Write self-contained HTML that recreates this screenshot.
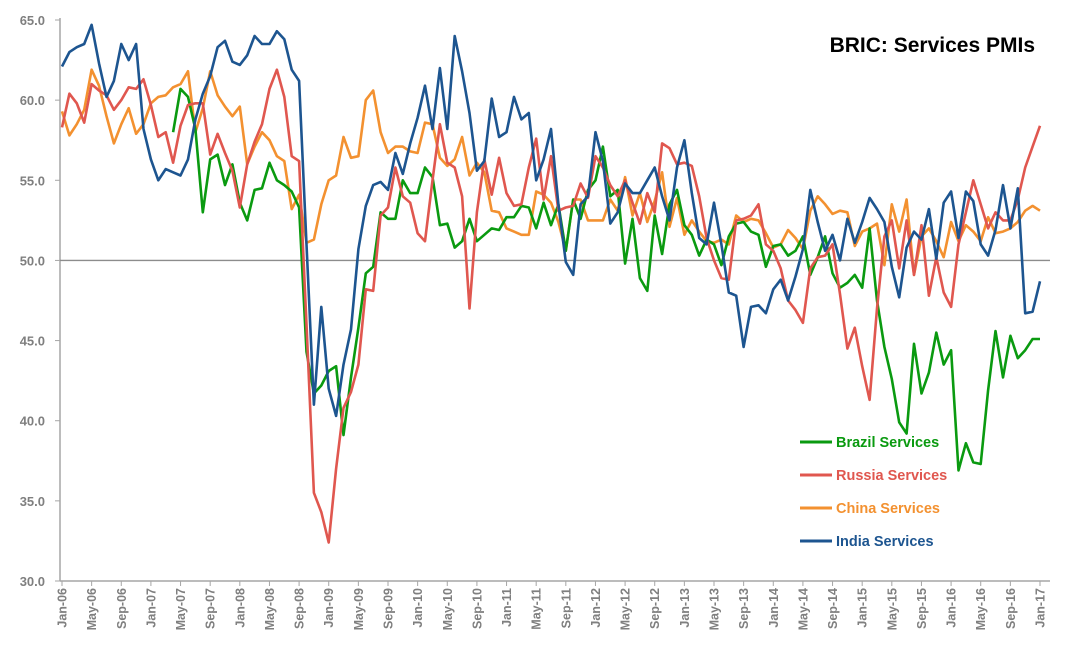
<!DOCTYPE html>
<html><head><meta charset="utf-8"><style>
body{margin:0;background:#fff;font-family:"Liberation Sans",sans-serif}
svg text{font-family:"Liberation Sans",sans-serif}
</style></head><body>
<svg id="chart" width="1076" height="660" xmlns="http://www.w3.org/2000/svg">
<g id="axes"></g><g id="lines"></g>
<text x="1035" y="52" text-anchor="end" font-size="21" font-weight="bold" fill="#000">BRIC: Services PMIs</text>
<g font-size="14.5" font-weight="bold">
<g><line x1="800" y1="442" x2="832" y2="442" stroke="#0a9a10" stroke-width="3"/><text x="836" y="447" fill="#0a9a10">Brazil Services</text></g>
<g><line x1="800" y1="475" x2="832" y2="475" stroke="#e0574f" stroke-width="3"/><text x="836" y="480" fill="#e0574f">Russia Services</text></g>
<g><line x1="800" y1="508" x2="832" y2="508" stroke="#f39130" stroke-width="3"/><text x="836" y="513" fill="#f39130">China Services</text></g>
<g><line x1="800" y1="541" x2="832" y2="541" stroke="#1d5590" stroke-width="3"/><text x="836" y="546" fill="#1d5590">India Services</text></g>
</g>
</svg>
<script>
const yTicks=[30,35,40,45,50,55,60,65];
const monthNames=["Jan","Feb","Mar","Apr","May","Jun","Jul","Aug","Sep","Oct","Nov","Dec"];
const startYear=2006, monthCount=133;
const india=[62.1,63.0,63.3,63.5,64.7,62.3,60.2,61.2,63.5,62.5,63.5,58.2,
56.3,55.0,55.7,55.5,55.3,56.3,58.8,60.4,61.5,63.3,63.7,62.4,
62.2,62.8,64.0,63.5,63.5,64.3,63.8,61.9,61.2,51.0,41.0,47.1,
42.0,40.3,43.5,45.7,50.7,53.4,54.7,54.9,54.4,56.7,55.4,57.3,
58.9,60.9,58.2,62.0,58.2,64.0,61.8,59.2,55.6,56.2,60.1,57.7,
58.0,60.2,58.8,59.2,55.0,56.3,58.2,53.5,49.9,49.1,53.5,54.0,
58.0,56.2,52.3,53.0,54.8,54.2,54.2,55.0,55.8,54.0,52.5,55.8,
57.5,54.2,51.4,51.0,53.6,51.0,48.0,47.8,44.6,47.1,47.2,46.7,
48.2,48.8,47.5,49.0,50.7,54.4,52.4,50.6,51.6,50.0,52.6,51.1,
52.4,53.9,53.2,52.4,49.6,47.7,50.8,51.8,51.3,53.2,50.1,53.6,
54.3,51.4,54.3,53.7,51.0,50.3,51.9,54.7,52.0,54.5,46.7,46.8,48.7];
const russia=[58.3,60.4,59.8,58.6,61.0,60.6,60.3,59.4,60.0,60.8,60.7,61.3,
59.7,57.7,58.0,56.1,58.4,59.7,59.8,59.8,56.6,57.9,56.7,55.6,
53.3,56.0,57.4,58.5,60.7,61.9,60.2,56.5,56.2,46.0,35.5,34.3,
32.4,37.0,40.8,41.8,43.5,48.2,48.1,52.8,53.3,55.8,54.0,53.6,
51.7,51.2,55.0,58.5,56.1,55.8,54.0,47.0,53.0,56.3,54.1,56.4,
54.2,53.4,53.5,55.8,57.6,53.8,56.5,53.1,53.3,53.4,54.8,53.9,
56.5,55.8,54.7,54.0,55.0,53.6,52.3,54.2,53.0,57.3,57.0,56.0,
56.1,55.9,54.0,51.4,50.0,48.9,48.8,52.5,52.6,52.8,53.5,51.0,
50.6,49.5,47.5,46.9,46.1,49.5,50.2,50.3,51.0,47.9,44.5,45.8,
43.4,41.3,47.0,51.5,52.5,49.5,52.5,49.1,52.2,47.8,50.2,48.0,
47.1,51.0,53.0,55.0,53.5,52.0,53.0,52.5,52.5,53.8,55.8,57.1,58.4];
const china=[59.3,57.8,58.5,59.4,61.9,60.9,59.0,57.3,58.5,59.5,57.9,58.5,
59.8,60.2,60.3,60.8,61.0,61.8,58.0,59.5,61.8,60.3,59.6,59.0,
59.6,56.0,57.1,58.0,57.5,56.5,56.2,53.2,54.1,51.1,51.3,53.5,
55.0,55.3,57.7,56.4,56.5,60.0,60.6,58.0,56.7,57.1,57.1,56.8,
56.7,58.6,58.5,56.4,55.9,56.3,57.7,55.3,56.1,55.5,53.1,53.0,
52.0,51.8,51.6,51.6,54.3,54.1,53.6,52.4,50.6,53.8,53.8,52.5,
52.5,52.5,53.8,53.1,55.2,52.8,54.2,52.4,53.7,55.5,52.1,53.9,
51.6,52.5,51.8,51.2,51.1,51.3,51.0,52.8,52.4,52.6,52.5,51.7,
50.8,51.0,51.9,51.4,50.7,53.1,54.0,53.5,52.9,53.1,53.0,50.9,
51.8,52.0,52.3,49.7,53.5,51.8,53.8,49.1,51.5,52.0,51.2,50.2,
52.4,51.2,52.2,51.8,51.2,52.7,51.7,51.8,52.0,52.4,53.1,53.4,53.1];
const brazil=[null,null,null,null,null,null,null,null,null,null,null,null,
null,null,null,58.0,60.7,60.2,58.2,53.0,56.3,56.6,54.7,56.0,
53.6,52.5,54.4,54.5,56.1,55.0,54.7,54.3,53.3,44.3,41.7,42.2,
43.1,43.4,39.1,42.7,45.8,49.2,49.6,53.0,52.6,52.6,55.0,54.2,
54.2,55.8,55.2,52.2,52.3,50.8,51.2,52.6,51.2,51.6,52.0,51.9,
52.7,52.7,53.4,53.3,52.0,53.6,52.2,53.5,50.6,53.8,52.6,54.4,
55.0,57.1,54.0,54.4,49.8,52.6,48.9,48.1,52.8,50.4,53.5,54.4,
52.2,51.6,50.3,51.3,51.0,49.7,51.5,52.3,52.4,51.8,51.6,49.6,
50.9,51.0,50.3,50.6,51.5,49.1,50.2,51.5,49.2,48.3,48.6,49.1,
48.3,52.0,47.5,44.6,42.6,39.9,39.2,44.8,41.7,43.0,45.5,43.5,
44.4,36.9,38.6,37.4,37.3,41.9,45.6,42.7,45.3,43.9,44.4,45.1,45.1];

const NS="http://www.w3.org/2000/svg";
const X0=62,X1=1040,Y0=581,Y1=20,YMIN=30,YMAX=65;
function xs(i){return X0+(X1-X0)*i/(monthCount-1);}
function ys(v){return Y0-(v-YMIN)/(YMAX-YMIN)*(Y0-Y1);}
function mk(tag,attrs,parent){const e=document.createElementNS(NS,tag);for(const k in attrs)e.setAttribute(k,attrs[k]);parent.appendChild(e);return e;}
const axes=document.getElementById('axes');
const yax=mk('line',{x1:60,y1:Y1-2,x2:60,y2:Y0,stroke:'#a6a6a6','stroke-width':1.5},axes);


const xax=mk('line',{x1:60,y1:Y0,x2:1050,y2:Y0,stroke:'#a6a6a6','stroke-width':1.5},axes);


yTicks.forEach(v=>{
  const t=mk('text',{x:45,y:ys(v)+5,'text-anchor':'end','font-size':13,'font-weight':'bold',fill:'#7f7f7f'},axes);
  t.textContent=v.toFixed(1);
  
  
  const tk=mk('line',{x1:55,y1:ys(v),x2:60,y2:ys(v),stroke:'#a6a6a6','stroke-width':1},axes);
  
  
});
const ref=mk('line',{x1:60,y1:ys(50),x2:1050,y2:ys(50),stroke:'#8c8c8c','stroke-width':1.3},axes);


for(let i=0;i<monthCount;i+=4){
  const x=xs(i);
  const lab=monthNames[i%12]+"-"+String((startYear+Math.floor(i/12))%100).padStart(2,'0');
  const tk=mk('line',{x1:x,y1:Y0,x2:x,y2:Y0+5,stroke:'#a6a6a6','stroke-width':1},axes);
  
  
  const t=mk('text',{x:0,y:0,'text-anchor':'end','font-size':12.5,'font-weight':'bold',fill:'#7f7f7f',transform:`translate(${x+4.5},${Y0+7}) rotate(-90)`},axes);
  t.textContent=lab;
  
  
}
const lines=document.getElementById('lines');
function drawSeries(arr,color,name){
  let d="",pen=false;
  arr.forEach((v,i)=>{if(v==null){pen=false;return;}d+=(pen?"L":"M")+xs(i).toFixed(1)+","+ys(v).toFixed(1);pen=true;});
  const p=mk('path',{d:d,fill:'none',stroke:color,'stroke-width':2.6,'stroke-linejoin':'round'},lines);
  
  
}
drawSeries(china,'#f39130','china-services-line');
drawSeries(brazil,'#0a9a10','brazil-services-line');
drawSeries(russia,'#e0574f','russia-services-line');
drawSeries(india,'#1d5590','india-services-line');
</script>
</body></html>
